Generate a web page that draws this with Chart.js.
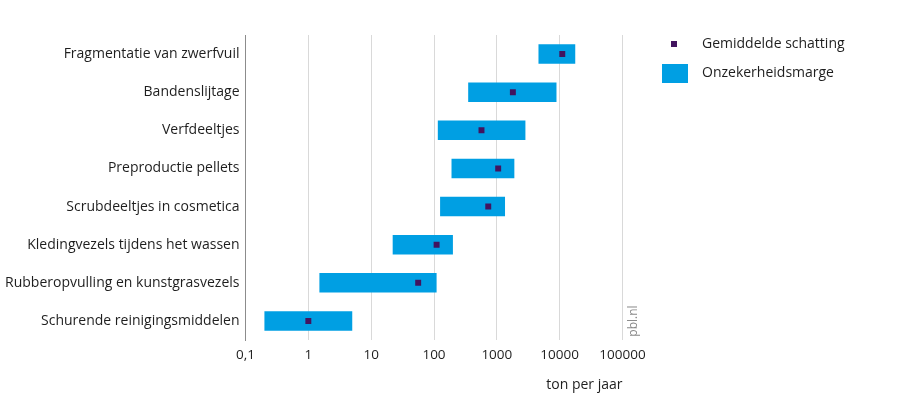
<!DOCTYPE html>
<html lang="nl">
<head>
  <meta charset="UTF-8" />
  <title>Bronnen van microplastics</title>
  <script src="https://cdn.jsdelivr.net/npm/chart.js"></script>
  <style>
    body {
      margin: 0;
      background: #ffffff;
    }
    .wrap {
      position: relative;
      width: 906px;
      height: 398px;
    }
  </style>
</head>
<body>
  <div class="wrap">
    <canvas id="pblChart"></canvas>
  </div>

  <script>
    const categories = [
      'Fragmentatie van zwerfvuil',
      'Bandenslijtage',
      'Verfdeeltjes',
      'Preproductie pellets',
      'Scrubdeeltjes in cosmetica',
      'Kledingvezels tijdens het wassen',
      'Rubberopvulling en kunstgrasvezels',
      'Schurende reinigingsmiddelen'
    ];
    const lowEstimate = [4600, 350, 115, 190, 125, 22, 1.5, 0.2];
    const highEstimate = [17700, 8900, 2850, 1900, 1350, 200, 110, 5];
    const meanEstimate = [11000, 1800, 570, 1050, 730, 110, 56, 1];
    const tickValues = [0.1, 1, 10, 100, 1000, 10000, 100000];
    const tickLabels = ['0,1', '1', '10', '100', '1000', '10000', '100000'];

    const FONT = 'Open Sans';
    const TEXT = '#1e1e1e';
    const BLUE = '#009fe3';
    const PURPLE = '#42145f';

    Chart.defaults.font.family = FONT;
    Chart.defaults.font.size = 14;
    Chart.defaults.color = TEXT;

    // legenda rechts + bronvermelding
    const extras = {
      id: 'extras',
      afterDraw(chart) {
        const ctx = chart.ctx;
        ctx.save();
        ctx.font = '14px ' + FONT;
        ctx.textBaseline = 'middle';
        ctx.textAlign = 'left';

        ctx.fillStyle = PURPLE;
        ctx.fillRect(671, 41, 6, 6);
        ctx.fillStyle = TEXT;
        ctx.fillText('Gemiddelde schatting', 702, 44);

        ctx.fillStyle = BLUE;
        ctx.fillRect(662, 64, 26, 19);
        ctx.fillStyle = TEXT;
        ctx.fillText('Onzekerheidsmarge', 702, 73);

        ctx.translate(634, 321);
        ctx.rotate(-Math.PI / 2);
        ctx.textAlign = 'center';
        ctx.fillStyle = '#8a8a8a';
        ctx.font = '12px ' + FONT;
        ctx.fillText('pbl.nl', 0, 0);
        ctx.restore();
      }
    };

    new Chart(document.getElementById('pblChart'), {
      type: 'bar',
      data: {
        labels: categories,
        datasets: [
          {
            type: 'line',
            label: 'Gemiddelde schatting',
            data: meanEstimate.map((v, i) => ({ x: v, y: categories[i] })),
            indexAxis: 'y',
            showLine: false,
            pointStyle: 'rect',
            pointRadius: 4.2,
            pointBorderWidth: 0,
            pointBackgroundColor: PURPLE,
            order: 0
          },
          {
            label: 'Onzekerheidsmarge',
            data: lowEstimate.map((v, i) => [v, highEstimate[i]]),
            backgroundColor: BLUE,
            borderWidth: 0,
            borderSkipped: false,
            categoryPercentage: 1,
            barPercentage: 0.51,
            order: 1
          }
        ]
      },
      options: {
        indexAxis: 'y',
        responsive: true,
        maintainAspectRatio: false,
        animation: false,
        layout: {
          padding: { top: 35, right: 283.5, bottom: 0, left: 0 }
        },
        plugins: {
          legend: { display: false },
          tooltip: { enabled: false }
        },
        scales: {
          x: {
            type: 'logarithmic',
            min: 0.1,
            max: 100000,
            afterBuildTicks: (scale) => {
              scale.ticks = tickValues.map(v => ({ value: v }));
            },
            afterFit: (scale) => { scale.height = 58; },
            ticks: {
              autoSkip: false,
              maxRotation: 0,
              padding: 7,
              font: { size: 13.5 },
              callback: (value, index) => tickLabels[index]
            },
            grid: { color: '#d9d9d9', lineWidth: 1, drawTicks: false },
            border: { display: false },
            title: {
              display: true,
              text: 'ton per jaar',
              align: 'end',
              font: { size: 14 },
              padding: { top: 0, bottom: 5 }
            }
          },
          y: {
            afterFit: (scale) => { scale.width = 245.5; },
            ticks: { padding: 6, font: { size: 14 } },
            grid: { display: false, drawTicks: false },
            border: { display: true, color: '#8c8c8c', width: 1 }
          }
        }
      },
      plugins: [extras]
    });
  </script>
</body>
</html>
